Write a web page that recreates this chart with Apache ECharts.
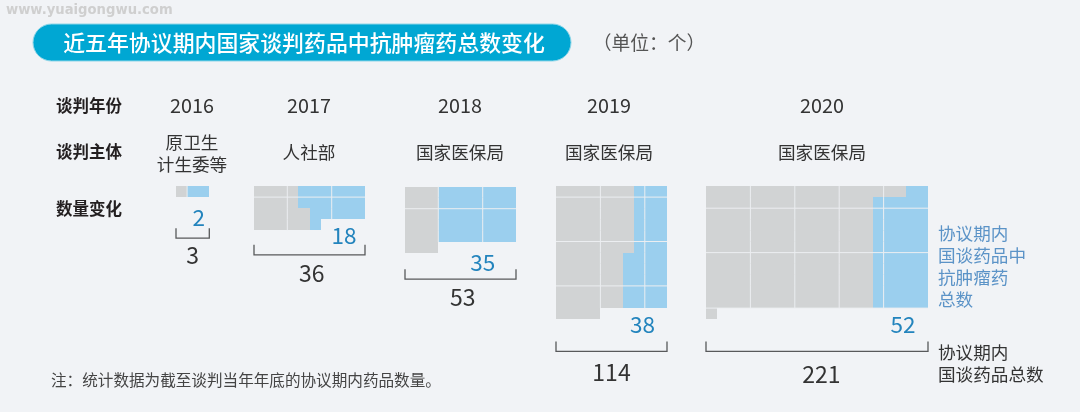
<!DOCTYPE html>
<html>
<head>
<meta charset="utf-8">
<style>
  html, body { margin: 0; padding: 0; background: #f1f3f6; }
  #chart { width: 1080px; height: 412px; }
</style>
<script src="https://cdn.jsdelivr.net/npm/echarts@6/dist/echarts.min.js"></script>
</head>
<body>
<div id="chart"></div>
<script>
// data
const years = ['2016', '2017', '2018', '2019', '2020'];
const agencies = ['原卫生\n计生委等', '人社部', '国家医保局', '国家医保局', '国家医保局'];
const totals = [3, 36, 53, 114, 221];
const oncology = [2, 18, 35, 38, 52];
const columns = [3, 10, 10, 10, 20];

// how many grey / blue units sit in each row of a block
const greyRows2016 = [1];
const blueRows2016 = [2];
const greyRows2017 = [4, 4, 5, 5];
const blueRows2017 = [6, 6, 5, 1];
const greyRows2018 = [3, 3, 3, 3, 3, 3];
const blueRows2018 = [7, 7, 7, 7, 7, 0];
const greyRows2019 = [7, 7, 7, 7, 7, 7, 6, 6, 6, 6, 6, 4];
const blueRows2019 = [3, 3, 3, 3, 3, 3, 4, 4, 4, 4, 4, 0];
const greyRows2020 = [18, 15, 15, 15, 15, 15, 15, 15, 15, 15, 15, 1];
const blueRows2020 = [2, 5, 5, 5, 5, 5, 5, 5, 5, 5, 5, 0];

const greyRows = [greyRows2016, greyRows2017, greyRows2018, greyRows2019, greyRows2020];
const blueRows = [blueRows2016, blueRows2017, blueRows2018, blueRows2019, blueRows2020];

// white lines that split a block into groups
const splitCols = [[1], [3, 7], [3, 7], [4, 8], [4, 8, 12, 16]];
const splitRows = [[], [1], [2], [1, 5, 9], [2, 6, 11]];

// layout, in pixels or in cell units
const UNIT = 11.1;
const ROWS_SHOWN = 18;
const FONT = '"Noto Sans CJK SC"';
const blockLeft = [176, 254, 405, 556, 706];
const blockTop = [186, 186, 186.5, 186, 186];
const headerX = [192, 309, 460, 609, 822];
const countCol = [2.05, 8.1, 7, 7.8, 17.75];
const countRow = [2.8, 4.5, 6.85, 12.5, 12.5];
const bracketRow = [3.8, 5.3, 7.45, 14, 14];
const totalCol = [1.5, 5.2, 5.2, 5, 10.4];
const totalRow = [6.2, 7.85, 10, 16.75, 17];

const GREY = '#d1d3d4';
const BLUE = '#9bcfee';
const LINE = '#eceef1';

// [col, row, units, 0 grey | 1 blue]
function buildCells(i) {
  const cells = [];
  greyRows[i].forEach((grey, row) => {
    if (grey > 0) cells.push([0, row, grey, 0]);
    if (blueRows[i][row] > 0) cells.push([grey, row, blueRows[i][row], 1]);
  });
  return cells;
}

function buildSplits(i) {
  const lines = [];
  greyRows[i].forEach((grey, row) => {
    const used = grey + blueRows[i][row];
    splitCols[i].forEach(col => {
      if (col < used) lines.push([col, row, col, row + 1]);
    });
  });
  splitRows[i].forEach(row => lines.push([0, row, columns[i], row]));
  return lines;
}

function renderCell(params, api) {
  const start = api.coord([api.value(0), api.value(1)]);
  const end = api.coord([api.value(0) + api.value(2), api.value(1) + 1]);
  const x = Math.round(start[0]);
  const y = Math.round(start[1]);
  return {
    type: 'rect',
    shape: { x: x, y: y, width: Math.round(end[0]) - x, height: Math.round(end[1]) - y },
    style: { fill: api.value(3) === 1 ? BLUE : GREY }
  };
}

function renderSplit(params, api) {
  const a = api.coord([api.value(0), api.value(1)]);
  const b = api.coord([api.value(2), api.value(3)]);
  return {
    type: 'line',
    shape: { x1: a[0], y1: a[1], x2: b[0], y2: b[1] },
    style: { stroke: LINE, lineWidth: 1 }
  };
}

function renderNote(i) {
  return function (params, api) {
    const cols = columns[i];
    const left = api.coord([0, bracketRow[i]]);
    const right = api.coord([cols, bracketRow[i]]);
    const count = api.coord([countCol[i], countRow[i]]);
    const total = api.coord([totalCol[i], totalRow[i]]);
    return {
      type: 'group',
      children: [
        {
          type: 'polyline',
          shape: { points: [[left[0], left[1]], [left[0], left[1] + 10], [right[0], right[1] + 10], [right[0], right[1]]] },
          style: { stroke: '#58595b', lineWidth: 1.3, fill: null }
        },
        {
          type: 'text',
          x: count[0], y: count[1],
          style: { text: String(oncology[i]), fill: '#2384bd', font: '22.5px ' + FONT, align: 'center', verticalAlign: 'middle' }
        },
        {
          type: 'text',
          x: total[0], y: total[1],
          style: { text: String(totals[i]), fill: '#333333', font: '23px ' + FONT, align: 'center', verticalAlign: 'middle' }
        }
      ]
    };
  };
}

const grids = [], xAxes = [], yAxes = [], series = [];
years.forEach((year, i) => {
  grids.push({ left: blockLeft[i], top: blockTop[i], width: columns[i] * UNIT, height: ROWS_SHOWN * UNIT });
  xAxes.push({ type: 'value', gridIndex: i, min: 0, max: columns[i], show: false });
  yAxes.push({ type: 'value', gridIndex: i, min: 0, max: ROWS_SHOWN, inverse: true, show: false });
  series.push({
    type: 'custom', xAxisIndex: i, yAxisIndex: i, clip: false, silent: true,
    renderItem: renderCell, data: buildCells(i), encode: { x: 0, y: 1 }
  });
  series.push({
    type: 'custom', xAxisIndex: i, yAxisIndex: i, clip: false, silent: true,
    renderItem: renderSplit, data: buildSplits(i), encode: { x: [0, 2], y: [1, 3] }, z: 3
  });
  series.push({
    type: 'custom', xAxisIndex: i, yAxisIndex: i, clip: false, silent: true,
    renderItem: renderNote(i), data: [[0, 0]], z: 4
  });
});

function label(x, y, text, size, color, weight, align) {
  return {
    type: 'text', x: x, y: y,
    style: {
      text: text, fill: color, align: align || 'center', verticalAlign: 'middle',
      font: (weight || 'normal') + ' ' + size + 'px ' + FONT, lineHeight: 22
    }
  };
}

const graphic = [
  {
    type: 'rect',
    shape: { x: 33, y: 24, width: 538, height: 37, r: 18.5 },
    style: { fill: '#00a7d3', stroke: '#8fd6e8', lineWidth: 1 }
  },
  label(304, 43, '近五年协议期内国家谈判药品中抗肿瘤药总数变化', 21.9, '#ffffff', 500),
  label(649, 43, '（单位：个）', 18.8, '#555555'),
  {
    type: 'text', x: 6, y: 11,
    style: { text: 'www.yuaigongwu.com', fill: '#cfcfcf', font: 'bold 13.2px "DejaVu Sans"', align: 'left', verticalAlign: 'middle' }
  },
  label(56, 105.5, '谈判年份', 16.5, '#231f20', 'bold', 'left'),
  label(56, 152, '谈判主体', 16.5, '#231f20', 'bold', 'left'),
  label(56, 209, '数量变化', 16.5, '#231f20', 'bold', 'left'),
  label(938, 266, '协议期内\n国谈药品中\n抗肿瘤药\n总数', 17.6, '#5b93c7', 'normal', 'left'),
  label(938, 363.5, '协议期内\n国谈药品总数', 17.6, '#333333', 'normal', 'left'),
  label(51, 380, '注：统计数据为截至谈判当年年底的协议期内药品数量。', 15.6, '#444444', 'normal', 'left')
];
years.forEach((year, i) => {
  graphic.push(label(headerX[i], 105.5, year, 19.8, '#333333'));
  graphic.push(label(headerX[i], i === 0 ? 153 : 152, agencies[i], 17.6, '#333333'));
});

const chart = echarts.init(document.getElementById('chart'), null, { renderer: 'canvas' });
chart.setOption({
  backgroundColor: '#f1f3f6',
  animation: false,
  tooltip: { show: false },
  grid: grids,
  xAxis: xAxes,
  yAxis: yAxes,
  series: series,
  graphic: { elements: graphic }
});
</script>
</body>
</html>
